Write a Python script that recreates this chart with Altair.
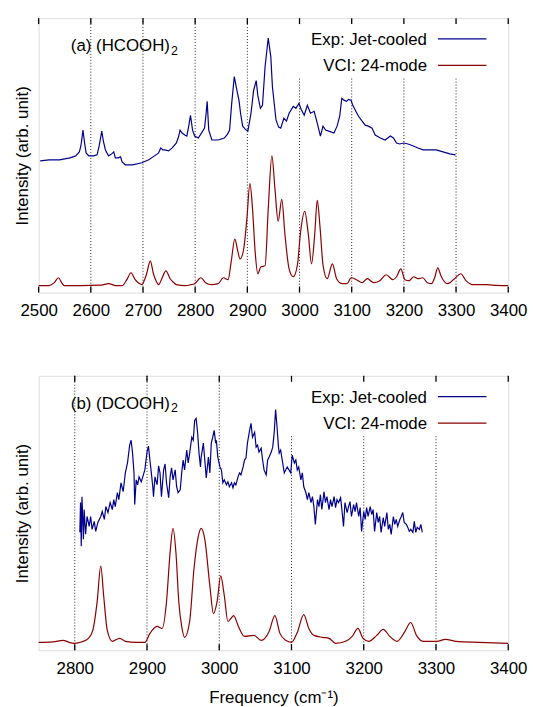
import altair as alt
import pandas as pd

FONT = "Liberation Sans"
EXP_COLOUR = "#00008b"
VCI_COLOUR = "#8b0000"

# ---------------- (a) (HCOOH)2 ----------------
a_exp_freq = [2503, 2520, 2540, 2560, 2571, 2578, 2581, 2585, 2588, 2591,
              2596, 2605, 2612, 2616, 2621, 2624, 2628, 2634, 2640, 2644,
              2647, 2652, 2657, 2660, 2666, 2680, 2698, 2711, 2722, 2730,
              2734, 2738, 2742, 2749, 2756, 2764, 2768, 2771, 2775, 2780,
              2784, 2788, 2791, 2795, 2799, 2806, 2812, 2818, 2821, 2823,
              2826, 2832, 2844, 2856, 2862, 2866, 2870, 2875, 2880, 2884,
              2887, 2891, 2896, 2901, 2907, 2912, 2917, 2920, 2925, 2929,
              2934, 2940, 2945, 2948, 2955, 2960, 2964, 2970, 2975, 2980,
              2988, 2993, 2999, 3003, 3009, 3015, 3021, 3028, 3034, 3040,
              3045, 3050, 3056, 3066, 3072, 3077, 3081, 3086, 3090, 3094,
              3099, 3102, 3107, 3113, 3120, 3126, 3132, 3139, 3145, 3155,
              3164, 3174, 3180, 3186, 3192, 3200, 3208, 3218, 3227, 3237,
              3250, 3262, 3275, 3288, 3299]
a_exp_int = [1.33, 1.34, 1.34, 1.36, 1.38, 1.42, 1.48, 1.64, 1.51, 1.41,
             1.38, 1.38, 1.39, 1.48, 1.63, 1.53, 1.44, 1.38, 1.40, 1.42,
             1.36, 1.36, 1.37, 1.32, 1.29, 1.29, 1.31, 1.34, 1.38, 1.41,
             1.46, 1.44, 1.44, 1.43, 1.46, 1.51, 1.57, 1.64, 1.61, 1.59,
             1.58, 1.69, 1.79, 1.64, 1.58, 1.56, 1.61, 1.66, 1.81, 1.93,
             1.64, 1.54, 1.54, 1.56, 1.60, 1.64, 1.91, 2.18, 2.04, 1.94,
             1.81, 1.68, 1.65, 1.63, 1.81, 2.04, 2.14, 1.99, 1.86, 1.89,
             2.28, 2.57, 2.38, 2.08, 1.74, 1.67, 1.66, 1.76, 1.73, 1.81,
             1.88, 1.86, 1.91, 1.85, 1.79, 1.89, 1.81, 1.83, 1.71, 1.58,
             1.68, 1.64, 1.63, 1.61, 1.68, 1.78, 1.96, 1.94, 1.93, 1.95,
             1.94, 1.89, 1.84, 1.78, 1.73, 1.69, 1.68, 1.66, 1.59, 1.56,
             1.54, 1.58, 1.56, 1.51, 1.50, 1.51, 1.50, 1.48, 1.46, 1.44,
             1.44, 1.44, 1.42, 1.40, 1.39]

a_vci_freq = [2500, 2520, 2530, 2538, 2544, 2549, 2580, 2620, 2634, 2648,
              2660, 2669, 2677, 2685, 2692, 2698, 2703, 2707, 2714, 2720,
              2725, 2730, 2736, 2744, 2752, 2758, 2764, 2780, 2792, 2799,
              2811, 2820, 2831, 2844, 2854, 2863, 2869, 2876, 2882, 2886,
              2893, 2899, 2905, 2910, 2915, 2920, 2926, 2934, 2940, 2947,
              2953, 2959, 2966, 2972, 2980, 2988, 2996, 3002, 3010, 3017,
              3023, 3029, 3034, 3039, 3045, 3053, 3063, 3071, 3082, 3091,
              3099, 3109, 3120, 3130, 3142, 3154, 3166, 3179, 3186, 3194,
              3202, 3210, 3219, 3227, 3236, 3245, 3253, 3259, 3265, 3271,
              3275, 3284, 3297, 3309, 3319, 3332, 3357, 3370, 3400]
a_vci_int = [0.07, 0.07, 0.10, 0.15, 0.10, 0.07, 0.07, 0.075, 0.09, 0.07,
             0.07, 0.13, 0.20, 0.13, 0.095, 0.08, 0.13, 0.19, 0.32, 0.19,
             0.12, 0.08, 0.14, 0.22, 0.14, 0.105, 0.08, 0.07, 0.08, 0.09,
             0.15, 0.10, 0.08, 0.09, 0.15, 0.13, 0.31, 0.54, 0.41, 0.34,
             0.44, 0.74, 1.10, 0.84, 0.41, 0.19, 0.26, 0.27, 0.84, 1.38,
             1.04, 0.72, 0.94, 0.59, 0.24, 0.16, 0.28, 0.61, 0.82, 0.58,
             0.29, 0.58, 0.93, 0.68, 0.28, 0.14, 0.29, 0.14, 0.09, 0.09,
             0.15, 0.13, 0.10, 0.14, 0.10, 0.12, 0.18, 0.13, 0.16, 0.24,
             0.13, 0.12, 0.16, 0.14, 0.15, 0.10, 0.09, 0.15, 0.25, 0.17,
             0.13, 0.09, 0.14, 0.19, 0.12, 0.08, 0.08, 0.075, 0.07]

# ---------------- (b) (DCOOH)2 ----------------
b_exp_freq = [2807, 2808, 2809, 2810, 2812, 2813, 2815, 2817, 2820, 2822,
              2824, 2827, 2829, 2832, 2836, 2838, 2841, 2843, 2846, 2849,
              2852, 2854, 2856, 2859, 2861, 2864, 2867, 2870, 2873, 2876,
              2878, 2880, 2882, 2883, 2885, 2887, 2889, 2892, 2895, 2897,
              2900, 2902, 2904, 2906, 2908, 2909, 2911, 2914, 2916, 2918,
              2920, 2923, 2925, 2927, 2930, 2932, 2934, 2936, 2939, 2941,
              2943, 2946, 2948, 2950, 2952, 2955, 2957, 2959, 2962, 2964,
              2966, 2968, 2970, 2972, 2974, 2975, 2978, 2980, 2982, 2985,
              2987, 2989, 2991, 2993, 2995, 2996, 2998, 3001, 3003, 3005,
              3007, 3010, 3012, 3014, 3017, 3019, 3021, 3023, 3026, 3028,
              3030, 3033, 3035, 3037, 3039, 3042, 3044, 3046, 3049, 3051,
              3053, 3055, 3058, 3060, 3062, 3065, 3067, 3069, 3072, 3074,
              3076, 3078, 3080, 3082, 3083, 3085, 3090, 3094, 3099, 3101,
              3104, 3106, 3108, 3110, 3113, 3115, 3117, 3120, 3122, 3124,
              3127, 3129, 3131, 3133, 3136, 3138, 3140, 3142, 3145, 3147,
              3149, 3152, 3154, 3156, 3159, 3161, 3163, 3165, 3168, 3170,
              3172, 3174, 3177, 3179, 3181, 3183, 3186, 3188, 3190, 3193,
              3195, 3197, 3200, 3202, 3204, 3206, 3209, 3211, 3213, 3215,
              3218, 3220, 3222, 3224, 3227, 3229, 3232, 3234, 3236, 3238,
              3241, 3243, 3245, 3247, 3250, 3252, 3254, 3256, 3259, 3261,
              3263, 3265, 3268, 3270, 3272, 3274, 3277, 3279, 3281]
b_exp_int = [1.19, 1.49, 1.05, 1.55, 1.12, 1.42, 1.17, 1.35, 1.25, 1.35,
             1.22, 1.30, 1.20, 1.29, 1.35, 1.40, 1.32, 1.45, 1.39, 1.49,
             1.42, 1.52, 1.45, 1.59, 1.52, 1.69, 1.60, 1.79, 1.89, 2.07,
             2.12, 1.99, 1.79, 1.47, 1.72, 1.67, 1.75, 1.70, 1.77, 1.82,
             2.00, 2.06, 1.92, 1.79, 1.65, 1.55, 1.75, 1.67, 1.86, 1.79,
             1.55, 1.82, 1.88, 1.69, 1.54, 1.75, 1.84, 1.72, 1.82, 1.65,
             1.59, 1.62, 1.79, 1.92, 1.82, 2.02, 1.89, 1.99, 2.15, 2.12,
             2.32, 2.34, 2.20, 1.99, 1.85, 1.95, 2.09, 1.92, 1.74, 1.95,
             1.79, 2.09, 2.15, 2.22, 2.09, 2.12, 1.95, 1.85, 1.82, 1.69,
             1.72, 1.67, 1.70, 1.65, 1.69, 1.64, 1.69, 1.67, 1.75, 1.79,
             1.77, 1.85, 1.92, 1.94, 2.09, 2.22, 2.29, 2.15, 2.20, 2.05,
             2.07, 2.00, 2.04, 1.92, 1.82, 1.77, 1.92, 1.95, 2.00, 2.05,
             2.19, 2.43, 2.25, 2.05, 1.99, 2.02, 1.79, 1.85, 1.79, 1.97,
             1.89, 1.92, 1.82, 1.85, 1.72, 1.79, 1.65, 1.59, 1.52, 1.59,
             1.49, 1.55, 1.45, 1.27, 1.52, 1.45, 1.57, 1.42, 1.60, 1.49,
             1.55, 1.42, 1.52, 1.45, 1.55, 1.44, 1.52, 1.49, 1.54, 1.40,
             1.25, 1.49, 1.39, 1.45, 1.50, 1.35, 1.47, 1.40, 1.49, 1.35,
             1.44, 1.20, 1.40, 1.32, 1.44, 1.35, 1.45, 1.37, 1.42, 1.20,
             1.39, 1.29, 1.35, 1.19, 1.34, 1.25, 1.39, 1.22, 1.27, 1.17,
             1.35, 1.27, 1.32, 1.25, 1.32, 1.35, 1.39, 1.29, 1.27, 1.24,
             1.20, 1.22, 1.19, 1.30, 1.19, 1.24, 1.22, 1.27, 1.19]

b_vci_freq = [2750, 2770, 2784, 2792, 2800, 2810, 2819, 2825, 2831, 2836,
              2840, 2845, 2852, 2862, 2870, 2885, 2897, 2904, 2914, 2921,
              2927, 2932, 2936, 2940, 2944, 2948, 2952, 2959, 2965, 2971,
              2975, 2980, 2987, 2992, 2997, 3002, 3007, 3012, 3016, 3020,
              3026, 3035, 3048, 3058, 3069, 3077, 3084, 3092, 3100, 3108,
              3117, 3124, 3131, 3143, 3152, 3161, 3175, 3184, 3192, 3199,
              3207, 3218, 3227, 3236, 3246, 3257, 3265, 3273, 3282, 3301,
              3313, 3328, 3360, 3400]
b_vci_int = [0.08, 0.085, 0.10, 0.08, 0.07, 0.085, 0.12, 0.20, 0.49, 0.85,
             0.55, 0.20, 0.09, 0.12, 0.09, 0.08, 0.08, 0.17, 0.24, 0.22,
             0.49, 0.99, 1.23, 0.99, 0.49, 0.24, 0.13, 0.29, 0.82, 1.15,
             1.23, 1.12, 0.65, 0.37, 0.49, 0.75, 0.55, 0.29, 0.32, 0.35,
             0.25, 0.14, 0.15, 0.10, 0.19, 0.35, 0.17, 0.10, 0.08, 0.18,
             0.36, 0.22, 0.15, 0.13, 0.12, 0.07, 0.09, 0.14, 0.22, 0.12,
             0.09, 0.15, 0.21, 0.14, 0.09, 0.19, 0.28, 0.15, 0.09, 0.09,
             0.11, 0.09, 0.08, 0.07]

# axis ticks and dotted grid positions (cm-1)
ticks_a = [2500, 2600, 2700, 2800, 2900, 3000, 3100, 3200, 3300, 3400]
ticks_b = [2800, 2900, 3000, 3100, 3200, 3300, 3400]
grid_full_a = [2600, 2700, 2800, 2900]
grid_under_key_a = [3000, 3100, 3200, 3300]
grid_full_b = [2800, 2900, 3000]
grid_under_key_b = [3100, 3200, 3300]

legend_labels = ["Exp: Jet-cooled", "VCI: 24-mode"]
legend_colours = [EXP_COLOUR, VCI_COLOUR]
panel_names = ["(a) (HCOOH)", "(b) (DCOOH)"]
subscript = "2"

W, H = 474, 277
KEY_BOTTOM = 61


def panel(exp_f, exp_i, vci_f, vci_i, domain, ticks, grid_full, grid_key,
          name, x_title):
    x_enc = alt.X(
        "freq:Q",
        scale=alt.Scale(domain=domain, nice=False, zero=False),
        axis=alt.Axis(values=ticks, format="d", ticks=False, tickSize=0,
                      domain=False, grid=False, labelPadding=10,
                      labelFontSize=17, labelFlush=False, labelOverlap=False,
                      title=x_title, titlePadding=14, titleFontSize=17,
                      titleFontWeight="normal"),
    )
    y_enc = alt.Y(
        "inten:Q",
        scale=alt.Scale(domain=[0, 2.77], nice=False, zero=False),
        axis=alt.Axis(title="Intensity (arb. unit)", labels=False,
                      ticks=False, domain=False, grid=False,
                      titlePadding=7, titleFontSize=17,
                      titleFontWeight="normal"),
    )

    exp_df = pd.DataFrame({"freq": exp_f, "inten": exp_i})
    vci_df = pd.DataFrame({"freq": vci_f, "inten": vci_i})

    grid1 = alt.Chart(pd.DataFrame({"freq": grid_full})).mark_rule(
        color="#222", strokeWidth=1, strokeDash=[1, 2]
    ).encode(x=x_enc, y=alt.value(0), y2=alt.value(H))
    grid2 = alt.Chart(pd.DataFrame({"freq": grid_key})).mark_rule(
        color="#222", strokeWidth=1, strokeDash=[1, 2]
    ).encode(x=x_enc, y=alt.value(KEY_BOTTOM), y2=alt.value(H))

    exp_line = alt.Chart(exp_df).mark_line(
        color=EXP_COLOUR, strokeWidth=1.2
    ).encode(x=x_enc, y=y_enc)
    vci_line = alt.Chart(vci_df).mark_line(
        color=VCI_COLOUR, strokeWidth=1.2, interpolate="monotone"
    ).encode(x=x_enc, y=y_enc)

    tick_df = pd.DataFrame({"freq": ticks})
    ticks_bottom = alt.Chart(tick_df).mark_rule(
        color="black", strokeWidth=1.3
    ).encode(x=x_enc, y=alt.value(H), y2=alt.value(H - 6))
    ticks_top = alt.Chart(tick_df).mark_rule(
        color="black", strokeWidth=1.3
    ).encode(x=x_enc, y=alt.value(0), y2=alt.value(6))

    key_df = pd.DataFrame({"label": legend_labels, "colour": legend_colours,
                           "slot": [0, 1]})
    key_lines = alt.Chart(key_df).transform_calculate(
        ly="21 + datum.slot * 26.7"
    ).mark_rule(strokeWidth=1.2).encode(
        x=alt.value(403), x2=alt.value(452),
        y=alt.Y("ly:Q", scale=None, axis=None),
        color=alt.Color("colour:N", scale=None, legend=None),
    )
    key_text = alt.Chart(key_df).transform_calculate(
        ty="27 + datum.slot * 26.7"
    ).mark_text(align="right", baseline="alphabetic", font=FONT,
                fontSize=17, color="black").encode(
        x=alt.value(392),
        y=alt.Y("ty:Q", scale=None, axis=None),
        text="label:N",
    )

    name_df = pd.DataFrame({"name": [name], "sub": [subscript]})
    name_text = alt.Chart(name_df).mark_text(
        align="left", baseline="alphabetic", font=FONT, fontSize=17,
        color="black"
    ).encode(x=alt.value(32.5), y=alt.value(33.3), text="name:N")
    sub_text = alt.Chart(name_df).mark_text(
        align="left", baseline="alphabetic", font=FONT, fontSize=12.5,
        color="black"
    ).encode(x=alt.value(133.5), y=alt.value(36.8), text="sub:N")

    return alt.layer(
        grid1, grid2, exp_line, vci_line, ticks_bottom, ticks_top,
        key_lines, key_text, name_text, sub_text
    ).properties(width=W, height=H)


top = panel(a_exp_freq, a_exp_int, a_vci_freq, a_vci_int, [2500, 3400],
            ticks_a, grid_full_a, grid_under_key_a, panel_names[0], None)
bottom = panel(b_exp_freq, b_exp_int, b_vci_freq, b_vci_int, [2750, 3400],
               ticks_b, grid_full_b, grid_under_key_b, panel_names[1],
               "Frequency (cm\u207b\u00b9)")

chart = alt.vconcat(top, bottom, spacing=84, bounds="flush").properties(
    padding={"left": 13, "top": 13, "right": 5, "bottom": 0},
    autosize=alt.AutoSizeParams(type="pad"),
).configure_view(
    stroke="black", strokeWidth=1.5
).configure_axis(
    labelFont=FONT, titleFont=FONT, labelColor="black", titleColor="black",
    titleFontWeight="normal",
).configure(background="white")

chart.save("out.html", embed_options={"renderer": "svg", "actions": False})
